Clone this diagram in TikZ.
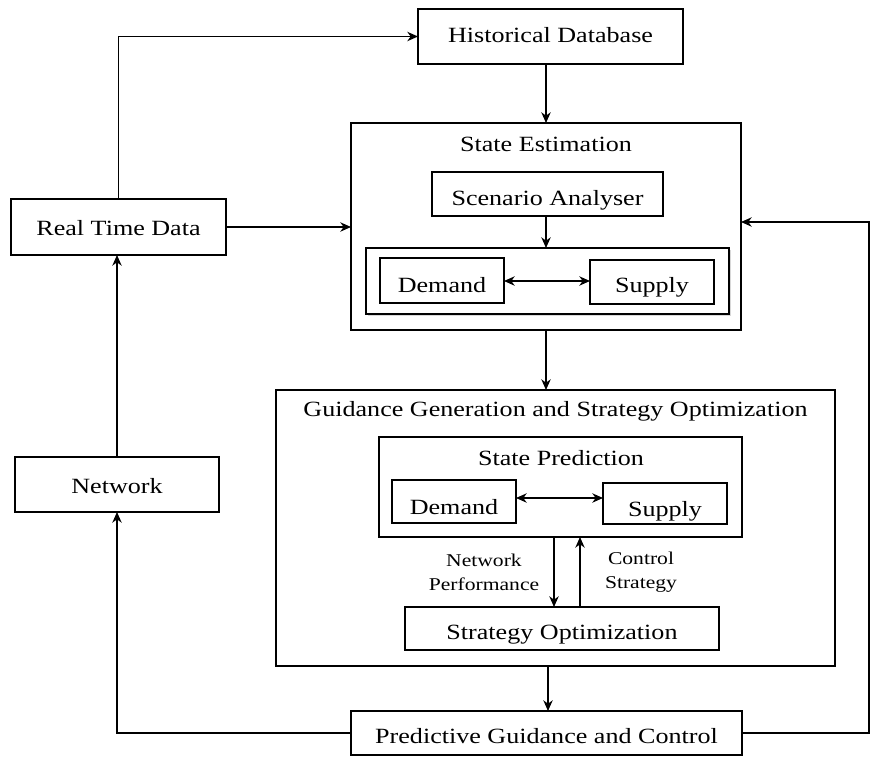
\documentclass[tikz,border=0pt]{standalone}
\usepackage{fontspec}
\setmainfont{Liberation Serif}[FakeStretch=1.2]
\usetikzlibrary{arrows.meta,shadows}
\def\pxu{0.75pt}
\begin{document}
\begin{tikzpicture}[x=0.75pt,y=-0.75pt,
  box/.style={draw=black,line width=1.1pt,fill=white,inner sep=0pt,outer sep=0pt,font=\fontsize{16.3}{19}\selectfont,align=center,text depth=0pt,text height=10.8pt},
  title/.style={inner sep=0pt,font=\fontsize{16.3}{19}\selectfont,text depth=0pt,text height=10.8pt},
  lbl/.style={inner sep=0pt,align=center,font=\fontsize{13.5}{18}\selectfont},
  conn/.style={line width=1.1pt,-{Stealth[length=8pt,width=7pt,inset=2.5pt]}},
  dconn/.style={line width=1.1pt,{Stealth[length=8pt,width=7pt,inset=2.5pt]}-{Stealth[length=8pt,width=7pt,inset=2.5pt]}},
  plain/.style={line width=1.1pt}]
\useasboundingbox (0,0) rectangle (876,761);
% top
\node[box,minimum width=265*\pxu,minimum height=55*\pxu,text height=8.55pt] (hist) at (550.5,36.5) {Historical Database};
\node[box,minimum width=215*\pxu,minimum height=56*\pxu,text height=12.3pt] (rtd) at (118.5,227) {Real Time Data};
\node[box,minimum width=204*\pxu,minimum height=55*\pxu,text height=13pt] (net) at (117,484.5) {Network};
% state estimation
\node[box,minimum width=390*\pxu,minimum height=207*\pxu] (se) at (546,226.5) {};
\node[title] (setitle) at (546,144) {State Estimation};
\node[box,minimum width=231*\pxu,minimum height=44*\pxu,text height=17.5pt] (sa) at (547.5,194) {Scenario Analyser};
\node[box,minimum width=363*\pxu,minimum height=66*\pxu,drop shadow={opacity=0.3,shadow xshift=1.8pt,shadow yshift=-1.8pt}] (inner) at (547.5,281) {};
\node[box,minimum width=124*\pxu,minimum height=45*\pxu,text height=17.5pt] (d1) at (442,280.5) {Demand};
\node[box,minimum width=124*\pxu,minimum height=44*\pxu,text height=16pt] (s1) at (652,282) {Supply};
% guidance
\node[box,minimum width=559*\pxu,minimum height=276*\pxu] (gg) at (555.5,528) {};
\node[title] (ggtitle) at (555.5,409) {Guidance Generation and Strategy Optimization};
\node[box,minimum width=363*\pxu,minimum height=100*\pxu] (sp) at (560.5,487) {};
\node[title] (sptitle) at (561,458) {State Prediction};
\node[box,minimum width=124*\pxu,minimum height=43*\pxu,text height=19pt] (d2) at (454,501.5) {Demand};
\node[box,minimum width=124*\pxu,minimum height=41*\pxu,text height=19pt] (s2) at (665,503.5) {Supply};
\node[box,minimum width=314*\pxu,minimum height=43*\pxu,text height=16.8pt] (so) at (562,628.5) {Strategy Optimization};
\node[lbl] (np) at (484,572) {Network\\Performance};
\node[lbl] (cs) at (641,572) {Control\\Strategy};
% bottom
\node[box,minimum width=391*\pxu,minimum height=44*\pxu,text height=16pt] (pg) at (546.5,733) {Predictive Guidance and Control};
\coordinate (rr) at (869,733);
\coordinate (rt) at (869,222);
% connectors
\draw[conn] (rtd.north) |- (hist.west);
\draw[conn] (rtd.east) -- (rtd.east -| se.west);
\draw[conn] (se.north |- hist.south) -- (se.north);
\draw[conn] (sa.south -| se.north) -- (inner.north -| se.north);
\draw[dconn] (d1.east |- 0,281) -- (s1.west |- 0,281);
\draw[conn] (se.south) -- (se.south |- gg.north);
\draw[dconn] (d2.east |- 0,498) -- (s2.west |- 0,498);
\draw[conn] (sp.south -| 554,0) -- (so.north -| 554,0);
\draw[conn] (so.north -| 580,0) -- (sp.south -| 580,0);
\draw[conn] (gg.south -| 548,0) -- (pg.north -| 548,0);
\draw[conn] (pg.west) -| (net.south);
\draw[conn] (net.north) -- (rtd.south -| net.north);
\draw[conn] (pg.east) -- (rr) -- (rt) -- (rt -| se.east);
\end{tikzpicture}
\end{document}
